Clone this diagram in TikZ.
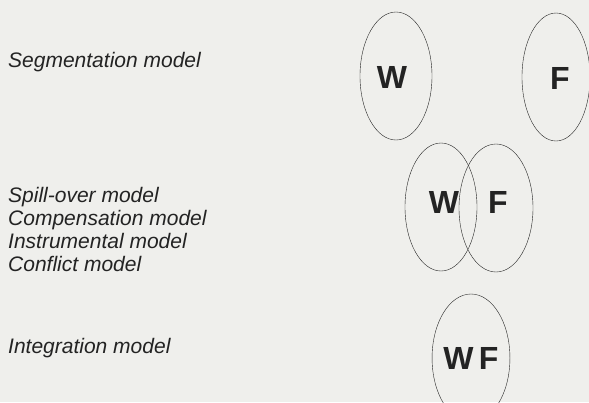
\documentclass[tikz,border=0pt]{standalone}
\usepackage{fontspec}
\setmainfont{Liberation Sans}
\usetikzlibrary{shapes.geometric}
\definecolor{paper}{RGB}{239,239,236}
\definecolor{ink}{RGB}{35,35,35}
\begin{document}
\begin{tikzpicture}[x=1pt, y=-1pt,
      set/.style={ellipse, draw=ink, thin, inner sep=0pt, minimum width=72pt, minimum height=128pt,
                  font=\fontsize{32}{34}\selectfont\bfseries, text=ink},
      letter/.style={font=\fontsize{32}{34}\selectfont\bfseries, text=ink},
      model/.style={anchor=west, inner sep=0pt, text=ink, align=left,
                  font=\fontsize{21}{23}\selectfont\itshape}]
                  \fill[paper] (0,0) rectangle (589,402);
                  \useasboundingbox (0,0) rectangle (589,402);
                  % segmentation
                  \node[model] (seg) at (8,62) {Segmentation model};
                  \node[set] (segW) at (396,76) {};
                  \node[set, minimum width=68pt] (segF) at (556,77) {};
                  \node[letter] (segWt) at (392,77) {W};
                  \node[letter] (segFt) at (560,78) {F};
                  % spill-over etc.
                  \node[model] (spill) at (8,229) {Spill-over model\\Compensation model\\Instrumental model\\Conflict model};
                  \node[set] (spW) at (441,207) {};
                  \node[set, minimum width=74pt] (spF) at (496,208) {};
                  \node[letter] (spWt) at (444,202) {W};
                  \node[letter] (spFt) at (498,202) {F};
                  % integration
                  \node[model] (integ) at (8,348) {Integration model};
                  \node[set, minimum width=73pt] (intWF) at (471,358) {W\,F};
            \end{tikzpicture}
\end{document}
